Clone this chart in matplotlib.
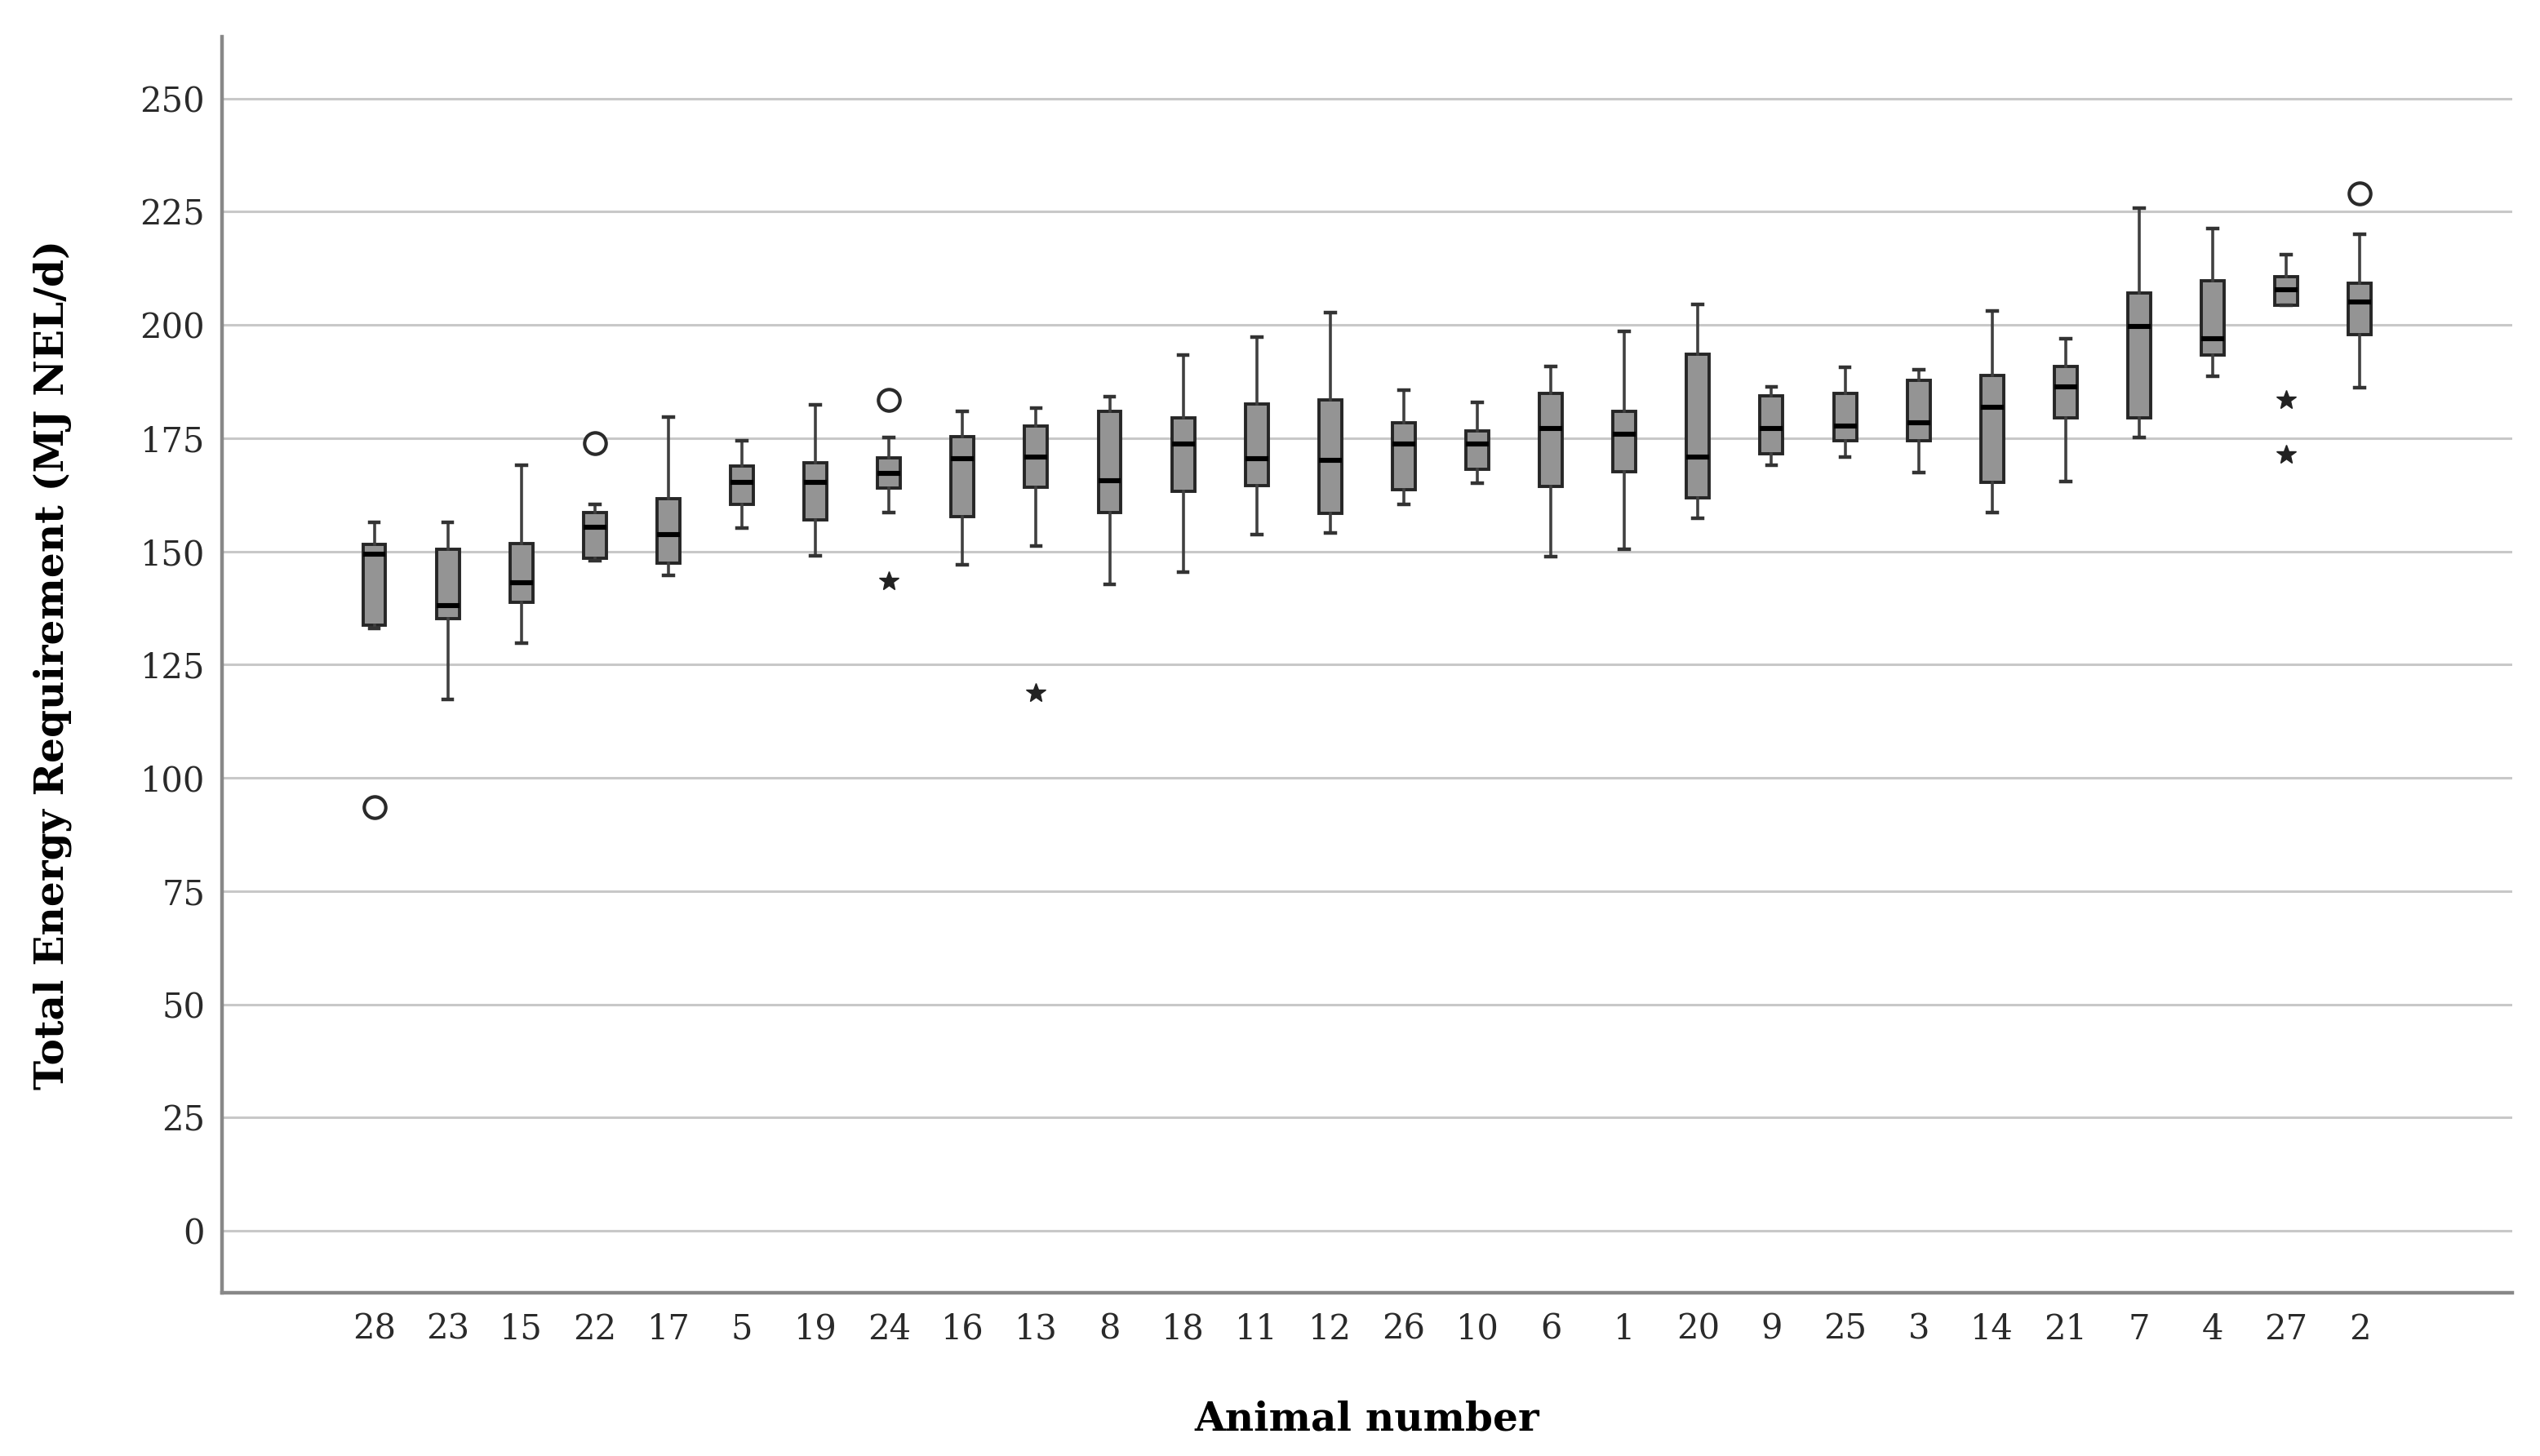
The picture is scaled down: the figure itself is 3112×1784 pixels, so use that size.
import matplotlib
matplotlib.use("Agg")
import matplotlib.pyplot as plt

# animals in plotted order (sorted by median energy requirement)
ANIMALS = ["28", "23", "15", "22", "17", "5", "19", "24", "16", "13", "8", "18", "11", "12",
           "26", "10", "6", "1", "20", "9", "25", "3", "14", "21", "7", "4", "27", "2"]
WHISKER_LOW = [133.0, 117.3, 129.8, 148.0, 144.7, 155.2, 149.0, 158.6, 147.0, 151.2, 142.7, 145.5, 153.7, 154.1,
               160.4, 165.1, 148.8, 150.5, 157.4, 169.1, 170.9, 167.4, 158.6, 165.4, 175.1, 188.6, 204.3, 186.2]
Q1 = [133.8, 135.2, 138.8, 148.5, 147.5, 160.4, 156.9, 163.9, 157.6, 164.2, 158.6, 163.2, 164.6, 158.4,
      163.7, 168.2, 164.4, 167.6, 161.9, 171.6, 174.4, 174.4, 165.2, 179.4, 179.4, 193.4, 204.3, 197.9]
MEDIAN = [149.4, 138.0, 143.0, 155.4, 153.7, 165.2, 165.2, 167.2, 170.4, 170.8, 165.6, 173.7, 170.4, 170.1,
          173.7, 173.7, 177.2, 175.8, 170.9, 177.2, 177.6, 178.4, 181.9, 186.4, 199.7, 196.9, 207.8, 205.0]
Q3 = [151.6, 150.4, 151.7, 158.6, 161.7, 168.9, 169.6, 170.6, 175.4, 177.6, 180.9, 179.4, 182.6, 183.4,
      178.4, 176.6, 184.9, 180.9, 193.6, 184.4, 184.9, 187.7, 188.9, 190.9, 207.0, 209.8, 210.6, 209.3]
WHISKER_HIGH = [156.4, 156.4, 169.1, 160.4, 179.6, 174.4, 182.4, 175.1, 180.9, 181.6, 184.1, 193.4, 197.4, 202.8,
                185.6, 182.9, 190.9, 198.6, 204.6, 186.4, 190.6, 190.1, 203.0, 196.9, 225.8, 221.3, 215.5, 220.0]

# outliers (circles) and extreme values (stars)
CIRCLE_ANIMALS = ["28", "22", "24", "2"]
CIRCLE_VALUES = [93.6, 173.9, 183.4, 229.0]
STAR_ANIMALS = ["24", "13", "27", "27"]
STAR_VALUES = [143.5, 118.7, 183.4, 171.4]

Y_TICKS = [0, 25, 50, 75, 100, 125, 150, 175, 200, 225, 250]


def main() -> None:
    plt.rcParams["font.family"] = ["DejaVu Serif"]

    fig = plt.figure(figsize=(31.12, 17.84), dpi=100)
    ax = fig.add_axes([0.0874, 0.112, 0.9016, 0.863])

    stats = []
    for i, name in enumerate(ANIMALS):
        stats.append({
            "label": name,
            "whislo": WHISKER_LOW[i],
            "q1": Q1[i],
            "med": MEDIAN[i],
            "q3": Q3[i],
            "whishi": WHISKER_HIGH[i],
            "fliers": [],
        })

    positions = list(range(len(ANIMALS)))
    ax.bxp(
        stats,
        positions=positions,
        widths=0.31,
        capwidths=0.13,
        patch_artist=True,
        showfliers=False,
        boxprops=dict(facecolor="#949494", edgecolor="#262626", linewidth=2.8),
        medianprops=dict(color="black", linewidth=4.4),
        whiskerprops=dict(color="#404040", linewidth=2.6),
        capprops=dict(color="#333333", linewidth=3.2),
        zorder=3,
    )

    pos_of = {name: i for i, name in enumerate(ANIMALS)}
    ax.plot([pos_of[a] for a in CIRCLE_ANIMALS], CIRCLE_VALUES, linestyle="none", marker="o",
            markersize=19, markerfacecolor="white", markeredgecolor="#2a2a2a", markeredgewidth=3.0, zorder=4)
    ax.plot([pos_of[a] for a in STAR_ANIMALS], STAR_VALUES, linestyle="none", marker="*",
            markersize=18, color="#222222", zorder=4)

    ax.set_xlim(-2.07, 29.07)
    ax.set_ylim(-13.7, 263.7)
    ax.set_yticks(Y_TICKS)
    ax.set_xticks(positions)
    ax.set_xticklabels(ANIMALS)

    ax.yaxis.grid(True, color="#c8c8c8", linewidth=2.2, zorder=0)
    ax.xaxis.grid(False)
    ax.set_axisbelow(True)

    for side in ["top", "right"]:
        ax.spines[side].set_visible(False)
    for side in ["left", "bottom"]:
        ax.spines[side].set_color("#888888")
        ax.spines[side].set_linewidth(3.2)

    ax.tick_params(axis="y", length=0, pad=15, labelsize=30, labelcolor="#2a2a2a")
    ax.tick_params(axis="x", length=0, pad=17, labelsize=30, labelcolor="#2a2a2a")

    ax.set_ylabel("Total Energy Requirement (MJ NEL/d)", fontsize=35, fontweight="bold")
    ax.yaxis.set_label_coords(-0.074, 0.5)
    ax.yaxis.label.set_va("center")
    ax.set_xlabel("Animal number", fontsize=35, fontweight="bold")
    ax.xaxis.set_label_coords(0.5, -0.1007)
    ax.xaxis.label.set_va("center")

    fig.savefig("out.png", dpi=100)
    plt.close(fig)


if __name__ == "__main__":
    main()
